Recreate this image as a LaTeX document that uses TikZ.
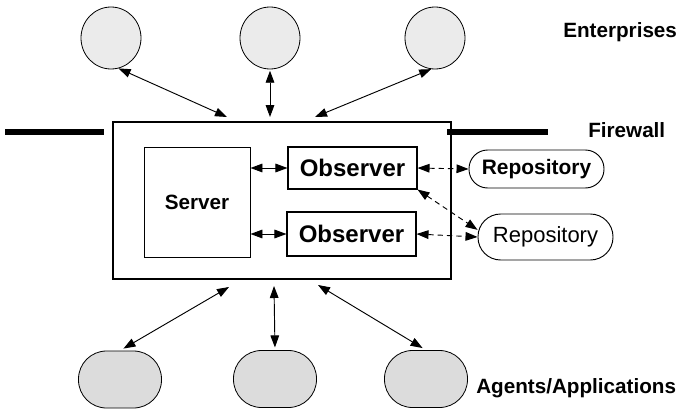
\documentclass[tikz,border=0pt]{standalone}
\usepackage{fontspec}
\setmainfont{Liberation Sans}
\usetikzlibrary{arrows.meta,positioning,shapes.geometric}
\definecolor{entFill}{HTML}{EBEBEB}
\definecolor{agtFill}{HTML}{DCDCDC}

\begin{document}
\begin{tikzpicture}[x=0.75pt,y=-0.75pt,
  ent/.style={ellipse,draw,line width=0.6pt,fill=entFill,minimum width=45pt,minimum height=46.5pt,inner sep=0pt},
  agt/.style={draw,line width=0.6pt,fill=agtFill,rounded corners=21pt,minimum width=62.25pt,minimum height=42.75pt},
  obs/.style={draw,line width=0.8pt,minimum width=96.75pt,inner sep=0pt,font=\bfseries\fontsize{18}{20}\selectfont},
  repo/.style={draw,line width=0.7pt,minimum width=101.25pt,inner sep=0pt},
  arr/.style={{Triangle[length=9pt,width=6.5pt]}-{Triangle[length=9pt,width=6.5pt]},line width=0.7pt},
  darr/.style={arr,dash pattern=on 4pt off 3pt},
  wall/.style={line width=4.5pt},
  lbl/.style={anchor=base west,inner sep=0pt,font=\bfseries\fontsize{15.5}{18}\selectfont}
]
\useasboundingbox (0,0) rectangle (679,414);

% enterprises
\node[ent] (e1) at (111,38) {};
\node[ent] (e2) at (270,38) {};
\node[ent] (e3) at (435,38) {};

% firewall and gateway
\draw[wall] (5,132) -- (104,132);
\node[draw,line width=1.5pt,minimum width=253.5pt,minimum height=117.75pt] (gw) at (282,200.5) {};
\draw[wall] (447,132) -- (548,132);

\node[draw,line width=0.7pt,minimum width=79.5pt,minimum height=82.5pt,font=\bfseries\fontsize{15.5}{18}\selectfont] (srv) at (197,202) {Server};
\node[obs,minimum height=31.5pt] (obs1) at (352.5,168) {Observer};
\node[obs,minimum height=33pt] (obs2) at (351.5,234) {Observer};

\node[repo,minimum height=28.5pt,rounded corners=14pt,font=\bfseries\fontsize{15.7}{18}\selectfont] (rep1) at (536.5,169) {Repository};
\node[repo,minimum height=34.5pt,rounded corners=17pt,font=\fontsize{16.5}{19}\selectfont] (rep2) at (545.5,237) {Repository};

% agents
\node[agt] (a1) at (120,379.5) {};
\node[agt] (a2) at (275,379) {};
\node[agt] (a3) at (426,379) {};

% ends on the gateway
\coordinate (tl) at (227,117);
\coordinate (tm) at (270,117);
\coordinate (tr) at (315,117);
\coordinate (bl) at (229,287);
\coordinate (bm) at (274,286);
\coordinate (br) at (318,285);

\draw[arr] (e1.-76) -- (tl);
\draw[arr,shorten <=1pt] (e2.south) -- (tm);
\draw[arr] (e3.-97) -- (tr);
\draw[arr,shorten >=3pt] (bl) -- (a1.north);
\draw[arr,shorten >=2pt] (bm) -- (a2.north);
\draw[arr,shorten >=3pt] (br) -- (a3.north);

\draw[arr] (srv.east |- obs1.west) -- (obs1.west);
\draw[arr] (srv.east |- obs2.west) -- (obs2.west);
\draw[darr] (obs1.east) -- (rep1.west);
\draw[darr] (obs2.east) -- (rep2.west);
\draw[darr] (obs1.south east) -- (rep2.174);

% labels
\node[lbl] (lent) at (563,37) {Enterprises};
\node[lbl] (lfw) at (588,137) {Firewall};
\node[lbl] (lagt) at (476,393) {Agents/Applications};
\end{tikzpicture}
\end{document}
